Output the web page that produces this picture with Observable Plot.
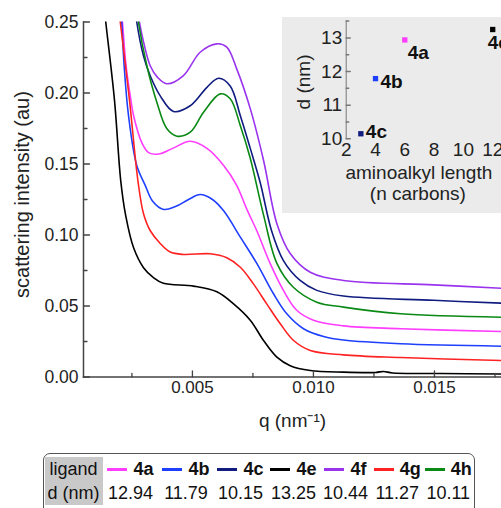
<!DOCTYPE html>
<html><head><meta charset="utf-8">
<script src="https://cdn.jsdelivr.net/npm/d3@7"></script>
<script src="https://cdn.jsdelivr.net/npm/@observablehq/plot@0.6"></script>
<style>
body{margin:0;background:#fff;font-family:"Liberation Sans",Arial,sans-serif;}
#wrap{position:relative;width:501px;height:508px;overflow:hidden;background:#fff;}
#legend{position:absolute;left:43px;top:453px;border:1.5px solid #555;border-radius:7px;padding:2.5px 0 0 0.5px;background:#fff;height:70px;box-sizing:border-box;}
#legend table{border-collapse:collapse;table-layout:fixed;font-size:18px;color:#111;}
#legend td{padding:0;line-height:24px;text-align:center;white-space:nowrap;overflow:visible;}
#legend td.head{background:#c9c9c9;}
#legend .sw{display:inline-block;width:20px;height:3px;vertical-align:middle;margin-right:6px;}
#legend b{font-weight:bold;}
</style></head><body><div id="wrap"></div>
<script>
// ---------- data ----------
const ligands = ["4a", "4b", "4c", "4e", "4f", "4g", "4h"];
const colors  = ["#ff3dff", "#1f3fff", "#101c80", "#000000", "#9933ee", "#ff2222", "#0a8a14"];
const dValues = [12.94, 11.79, 10.15, 13.25, 10.44, 11.27, 10.11];

const q_4a = [0.00203,0.00211,0.00226,0.00245,0.00257,0.00291,0.00319,0.00360,0.00418,0.00491,0.00560,0.00629,0.00683,0.00725,0.00766,0.00821,0.00876,0.00931,0.01000,0.01124,0.0136,0.01777];
const I_4a = [0.268,0.250,0.219,0.196,0.184,0.165,0.158,0.157,0.161,0.166,0.161,0.149,0.135,0.118,0.103,0.080,0.061,0.047,0.040,0.036,0.034,0.032];

const q_4b = [0.00200,0.00208,0.00218,0.00236,0.00270,0.00305,0.00335,0.00381,0.00430,0.00484,0.00532,0.00583,0.00629,0.00698,0.00766,0.00835,0.00890,0.00959,0.01042,0.01124,0.0136,0.01777];
const I_4b = [0.268,0.250,0.219,0.184,0.149,0.135,0.124,0.118,0.120,0.125,0.1285,0.125,0.117,0.0985,0.080,0.0586,0.0445,0.034,0.0285,0.026,0.0234,0.0217];

const q_4c = [0.00262,0.00270,0.00298,0.00326,0.00367,0.00422,0.00491,0.00560,0.00608,0.00656,0.00698,0.00739,0.00780,0.00827,0.00876,0.00945,0.01014,0.01124,0.01496,0.01777];
const I_4c = [0.262,0.250,0.226,0.212,0.198,0.187,0.191,0.204,0.2104,0.205,0.184,0.161,0.137,0.103,0.082,0.068,0.061,0.057,0.054,0.052];

const q_4e = [0.00130,0.00142,0.00178,0.00204,0.00224,0.00257,0.00298,0.00339,0.00380,0.00505,0.00601,0.00670,0.00739,0.00794,0.00849,0.00904,0.00987,0.01124,0.01257,0.0129,0.01327,0.01525,0.01777];
const I_4e = [0.270,0.250,0.195,0.138,0.114,0.091,0.077,0.070,0.066,0.064,0.060,0.0515,0.040,0.0257,0.014,0.008,0.0046,0.0034,0.0032,0.0039,0.0028,0.0025,0.0021];

const q_4f = [0.00272,0.00281,0.00298,0.00326,0.00356,0.00394,0.00463,0.00532,0.00601,0.00642,0.00683,0.00739,0.00794,0.00849,0.00904,0.00987,0.01124,0.01496,0.01777];
const I_4f = [0.262,0.250,0.236,0.219,0.211,0.2065,0.2123,0.2287,0.2346,0.2323,0.217,0.189,0.1525,0.108,0.087,0.0738,0.068,0.0649,0.0625];

const q_4g = [0.00192,0.00202,0.00240,0.00275,0.00298,0.00326,0.00367,0.00408,0.00463,0.00574,0.00642,0.00698,0.00752,0.00807,0.00863,0.00918,0.00987,0.01124,0.0136,0.01777];
const I_4g = [0.266,0.250,0.195,0.138,0.115,0.103,0.094,0.088,0.0863,0.0868,0.084,0.0773,0.0656,0.0515,0.0375,0.0257,0.0187,0.0156,0.0137,0.0116];

const q_4h = [0.00268,0.00277,0.00312,0.00353,0.00394,0.00436,0.00491,0.00546,0.00615,0.00656,0.00698,0.00739,0.00794,0.00849,0.00918,0.01014,0.01124,0.0136,0.01777];
const I_4h = [0.264,0.250,0.219,0.1935,0.175,0.1696,0.1724,0.1865,0.1994,0.196,0.177,0.154,0.114,0.080,0.063,0.0527,0.0492,0.0445,0.0421];

const yMajor = [0, 0.05, 0.10, 0.15, 0.20, 0.25];
const yMinor = [0.025, 0.075, 0.125, 0.175, 0.225];
const xMajor = [0.005, 0.010, 0.015];
const xMinor = [0.0025, 0.0075, 0.0125, 0.0175];

// inset
const insetLigands = ["4a", "4b", "4c", "4e"];
const insetCarbons = [6, 4, 3, 12];
const insetD       = [12.94, 11.79, 10.15, 13.25];
const insetYMajor = [10, 11, 12, 13];
const insetYMinor = [10.5, 11.5, 12.5, 13.5];
const insetXTicks = [2, 4, 6, 8, 10, 12];

// ---------- build ----------
const seriesQ = {"4a": q_4a, "4b": q_4b, "4c": q_4c, "4e": q_4e, "4f": q_4f, "4g": q_4g, "4h": q_4h};
const seriesI = {"4a": I_4a, "4b": I_4b, "4c": I_4c, "4e": I_4e, "4f": I_4f, "4g": I_4g, "4h": I_4h};
const colorOf = Object.fromEntries(ligands.map((l, i) => [l, colors[i]]));

const tickShape = {draw(context, l) { context.moveTo(0, 0); context.lineTo(0, -l); }};
const axisCol = "#444";
const font = "'Liberation Sans', Arial, sans-serif";

const lineMarks = ligands.map(l => {
  const rows = seriesQ[l].map((q, i) => ({q, I: seriesI[l][i]}));
  return Plot.line(rows, {x: "q", y: "I", stroke: colorOf[l], strokeWidth: 1.6, curve: "catmull-rom", clip: true});
});

const main = Plot.plot({
  width: 501, height: 440,
  marginLeft: 83, marginRight: 0, marginTop: 21.5, marginBottom: 63.5,
  style: {fontFamily: font, fontSize: "17px", color: "#222", background: "transparent"},
  x: {domain: [0.0005, 0.01777]},
  y: {domain: [0, 0.25]},
  marks: [
    ...lineMarks,
    Plot.frame({anchor: "left", stroke: axisCol, strokeWidth: 1.5}),
    Plot.frame({anchor: "bottom", stroke: axisCol, strokeWidth: 1.5}),
    Plot.vector(yMajor, {y: d => d, frameAnchor: "left", length: 6, rotate: 90, anchor: "start", shape: tickShape, stroke: axisCol, strokeWidth: 1.3}),
    Plot.vector(yMinor, {y: d => d, frameAnchor: "left", length: 3.5, rotate: 90, anchor: "start", shape: tickShape, stroke: axisCol, strokeWidth: 1.3}),
    Plot.vector(xMajor, {x: d => d, frameAnchor: "bottom", length: 6, anchor: "start", shape: tickShape, stroke: axisCol, strokeWidth: 1.3}),
    Plot.vector(xMinor, {x: d => d, frameAnchor: "bottom", length: 3.5, anchor: "start", shape: tickShape, stroke: axisCol, strokeWidth: 1.3}),
    Plot.axisY(yMajor, {tickSize: 0, tickPadding: 5, tickFormat: d3.format(".2f"), label: null, fontSize: 17.5}),
    Plot.axisX(xMajor, {tickSize: 0, tickPadding: 4, tickFormat: d3.format(".3f"), label: null, fontSize: 17}),
    Plot.text(["scattering intensity (au)"], {frameAnchor: "left", rotate: -90, textAnchor: "middle", lineAnchor: "middle", dx: -61, dy: -5, fontSize: 20, fill: "#222"}),
    Plot.text(["q (nm\u207B\u00B9)"], {frameAnchor: "bottom", textAnchor: "middle", lineAnchor: "middle", dy: 44, fontSize: 19, fill: "#222"})
  ]
});

const insetRows = insetLigands.map((l, i) => ({ligand: l, n: insetCarbons[i], d: insetD[i], color: colorOf[l]}));
const labelOffsets = {"4a": [3, 13], "4b": [5, 3], "4c": [5, -2], "4e": [-5, 13]};

const inset = Plot.plot({
  width: 219, height: 196,
  marginLeft: 63.7, marginRight: 0, marginTop: 3.6, marginBottom: 74.7,
  style: {fontFamily: font, fontSize: "19px", color: "#222", background: "#ebebeb"},
  x: {domain: [2, 12.6]},
  y: {domain: [10, 13.5]},
  marks: [
    Plot.frame({anchor: "left", stroke: "#777", strokeWidth: 1}),
    Plot.vector(insetYMajor, {y: d => d, frameAnchor: "left", length: 4, rotate: 90, anchor: "start", shape: tickShape, stroke: "#777"}),
    Plot.vector(insetYMinor, {y: d => d, frameAnchor: "left", length: 2.5, rotate: 90, anchor: "start", shape: tickShape, stroke: "#777"}),
    Plot.axisY(insetYMajor, {tickSize: 0, tickPadding: 4, label: null, fontSize: 19}),
    Plot.axisX(insetXTicks, {tickSize: 0, tickPadding: 4, label: null, fontSize: 19}),
    ...insetRows.map(r => Plot.dot([r], {x: "n", y: "d", symbol: "square", r: 3, fill: r.color, stroke: null})),
    ...insetRows.map(r => Plot.text([r], {x: "n", y: "d", text: "ligand", textAnchor: "start", dx: labelOffsets[r.ligand][0], dy: labelOffsets[r.ligand][1], fontWeight: "bold", fontSize: 19, fill: "#111"})),
    Plot.text(["d (nm)"], {frameAnchor: "left", rotate: -90, textAnchor: "middle", lineAnchor: "middle", dx: -42, dy: 2, fontSize: 19, fill: "#222"}),
    Plot.text(["aminoalkyl length"], {frameAnchor: "bottom", textAnchor: "middle", lineAnchor: "middle", dx: -5, dy: 34.5, fontSize: 19, fill: "#222"}),
    Plot.text(["(n carbons)"], {frameAnchor: "bottom", textAnchor: "middle", lineAnchor: "middle", dx: -6, dy: 55, fontSize: 19, fill: "#222"})
  ]
});

const wrap = document.getElementById("wrap");
main.style.position = "absolute"; main.style.left = "0px"; main.style.top = "0px";
inset.style.position = "absolute"; inset.style.left = "282px"; inset.style.top = "17px";
wrap.appendChild(main);
wrap.appendChild(inset);

// legend table (built from the data arrays)
const colWidths = [58, 56, 55, 54, 52, 52, 51.5, 50.5];
const legend = document.createElement("div");
legend.id = "legend";
const table = document.createElement("table");
table.style.width = d3.sum(colWidths) + "px";
const cg = document.createElement("colgroup");
colWidths.forEach(w => { const c = document.createElement("col"); c.style.width = w + "px"; cg.appendChild(c); });
table.appendChild(cg);
const r1 = table.insertRow(), r2 = table.insertRow();
const h1 = r1.insertCell(); h1.className = "head"; h1.textContent = "ligand";
const h2 = r2.insertCell(); h2.className = "head"; h2.textContent = "d (nm)";
ligands.forEach((l, i) => {
  const c1 = r1.insertCell();
  const sw = document.createElement("span"); sw.className = "sw"; sw.style.background = colors[i];
  const b = document.createElement("b"); b.textContent = l;
  c1.appendChild(sw); c1.appendChild(b);
  const c2 = r2.insertCell(); c2.textContent = dValues[i].toFixed(2);
});
legend.appendChild(table);
wrap.appendChild(legend);
</script></body></html>
